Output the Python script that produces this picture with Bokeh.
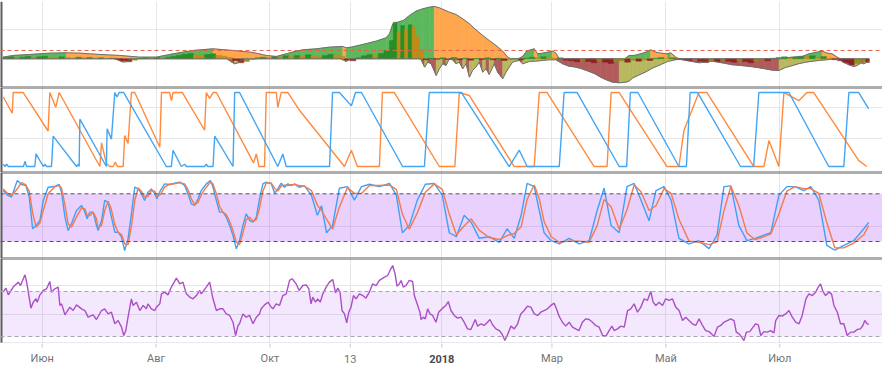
import datetime as dt
from bokeh.plotting import figure
from bokeh.layouts import column
from bokeh.models import Range1d, Span, FixedTicker, BoxAnnotation
from bokeh.core.properties import value
from bokeh.embed import file_html
from bokeh.resources import INLINE

# ---------------- x axis (days since START) ----------------
START = dt.date(2017, 5, 11)
TICK_DATES = [dt.date(2017, 6, 1), dt.date(2017, 8, 1), dt.date(2017, 10, 1), dt.date(2017, 11, 13),
              dt.date(2018, 1, 1), dt.date(2018, 3, 1), dt.date(2018, 5, 1), dt.date(2018, 7, 1)]
TICK_LABELS = ["Июн", "Авг", "Окт", "13", "2018", "Мар", "Май", "Июл"]
TICK_BOLD = [False, False, False, False, True, False, False, False]
X_START, X_END = -1.3, 471.0

# ---------------- panel 1: momentum / trend strength ----------------
TREND_LEVEL = 25
S1 = [(0, 5), (5.5, 10), (14.4, 13), (25.1, 17), (34.1, 18), (41.2, 17), (51.9, 13), (62.6, 10), (73.3, 5),
      (82.2, 5), (91.1, 15), (101.8, 25), (112.5, 30), (123.2, 25), (133.9, 19), (141, 10), (146.4, 7),
      (151.7, 15), (157, 23), (160.6, 27), (167.8, 30), (174.9, 35), (182, 37), (183.8, 33), (186.5, 35),
      (192.7, 43), (199.8, 53), (205.2, 63), (207, 75), (208.8, 105), (214.4, 115), (217.7, 130), (221.2, 143),
      (224.8, 150), (228.4, 155), (231, 157), (233.7, 153), (239, 140), (242.6, 133), (246.2, 120), (249.8, 105),
      (253.3, 87), (256.9, 70), (260.4, 55), (264, 40), (267.6, 23), (270.3, 5), (272, 0), (276, 0), (278.3, 7),
      (280.4, 23), (284.5, 30), (286.3, 15), (289, 17), (291.6, 20), (294.3, 23), (296.1, 17), (297.9, 0),
      (333, 0), (335.3, 10), (338, 10), (341.6, 15), (344.3, 20), (346.9, 27), (349.6, 20), (352.3, 17),
      (355.8, 15), (357.6, 18), (360.3, 5), (362.1, 0), (416, 0), (417.3, 2), (422.7, 5), (428, 7), (431.6, 15),
      (433.4, 17), (436, 20), (438.7, 23), (441.4, 17), (444, 15), (446.7, 5), (448.5, 0), (463.7, 0)]
S2 = [(0, 0), (60, 0), (62.6, -6), (64.5, -10), (66.5, -8), (68, 0), (120, 0), (122, -8), (124, -15), (126, -12),
      (128, 0), (181, 0), (183.8, -8), (186, 0), (223, 0), (224, -3), (225.8, -25), (227.5, -10), (229.3, -15),
      (232, -50), (233.7, -30), (235.5, -15), (237.3, -20), (239, 0), (240.8, -3), (242.6, -15), (244.4, -10),
      (246.2, -30), (248, -15), (249.8, -55), (251.5, -35), (253.3, -25), (255.1, -10), (256.9, -40),
      (258.7, -30), (260.4, -47), (263.1, -15), (264.9, -40), (267.6, -60), (269.4, -40), (271.1, -25),
      (272.9, -10), (274.7, -7), (276.5, -5), (278.3, -15), (281.9, -8), (285.4, -7), (289, -5), (292.6, -3),
      (296.1, -3), (299.7, -15), (303, -22), (306.8, -25), (310, -30), (313.9, -38), (317, -45), (320, -55),
      (323, -63), (326.4, -70), (330, -72), (333.6, -70), (335.3, -67), (337.1, -58), (340, -50), (344, -40),
      (347.8, -28), (352, -18), (356, -8), (360, -3), (362.1, -1), (366, -5), (369, -8), (372.8, -12), (376, -10),
      (380, -7), (383, -10), (387, -14), (390.6, -18), (395, -20), (400, -23), (404, -26), (408, -30), (412, -34),
      (415.6, -35), (419, -26), (423, -20), (426, -15), (430, -10), (434, -7), (437, -5), (441, -3), (444, -1),
      (447.6, -2), (450, -10), (453, -18), (455.7, -23), (457.5, -20), (459.5, -12), (461, -15), (463.7, -7)]
S3 = [(0, 4), (3, 6), (6, 3), (9, 5), (12, 7), (15, 4), (18, 6), (21, 8), (24, 5), (27, 3), (30, 6), (33, 4),
      (36, 2), (39, 5), (42, 3), (45, 4), (48, 2), (51, 3), (54, 1), (57, 2),
      (60, -2), (63, -6), (66, -9), (69, -4), (72, 1), (75, 3), (78, 2), (81, 4), (84, 3), (87, 5), (90, 8),
      (93, 11), (96, 14), (99, 16), (102, 12), (105, 10), (108, 13), (111, 15), (114, 11), (117, 8),
      (120, 4), (123, -5), (126, -12), (129, -8), (132, -2), (135, 3), (138, 5), (141, 4), (144, 7), (147, 6),
      (150, 9), (153, 7), (156, 10), (159, 8), (162, 12), (165, 9), (168, 6), (171, 10), (174, 14), (177, 11),
      (180, 8), (183, -4), (186, -6), (189, 3), (192, 9), (195, 13), (198, 11), (201, 16), (204, 25), (207, 55),
      (209, 110), (211, 80), (213, 100), (215, 88), (217, 102), (219, 96), (221, 68), (223, 22), (225, -3),
      (228, 2), (231, -1), (234, 3), (237, -2),
      (240, 4), (243, -3), (246, 2), (249, -4), (252, 1), (255, -2), (258, 3), (261, -3), (264, 2), (267, -5),
      (270, -2), (273, 1), (276, -3), (279, 2), (282, 5), (285, 3), (288, 6), (291, 4), (294, 2), (297, 3),
      (300, -4), (303, -6), (306, -9), (309, -5), (312, -8), (315, -12), (318, -7), (321, -10), (324, -14),
      (327, -9), (330, -6), (333, -10), (336, -4), (339, -7), (342, -3), (345, -5), (348, 2), (351, 4), (354, 1),
      (357, 3), (360, -2), (363, -3), (366, -6), (369, -2), (372, -8), (375, -11), (378, -6), (381, -9),
      (384, -4), (387, -7), (390, -10), (393, -5), (396, -8), (399, -12), (402, -7), (405, -3), (408, -6),
      (411, 2), (414, 4), (417, 6), (420, 3), (423, 5), (426, 8), (429, 6), (432, 9), (435, 4), (438, 7),
      (441, 2), (444, -3), (447, -6), (450, -12), (453, -18), (456, -14), (459, -8), (462, -11)]

# ---------------- panel 2: Aroon ----------------
AROON_UP = [(0.2, 94), (5.0, 72), (5.5, 100), (10.9, 100), (24.2, 48), (25.1, 100), (28.3, 80), (30.1, 100),
            (51.9, 0), (52.8, 32), (55.4, 4), (57.2, 0), (59.0, 0), (60.2, 6), (61.2, 0), (64.4, 0), (65.2, 42),
            (67.0, 31), (68.8, 100), (70.6, 100), (84.0, 26), (84.9, 100), (89.3, 100), (90.2, 89), (91.1, 100),
            (96.1, 100), (108.0, 49), (108.9, 100), (110.7, 92), (112.5, 100), (114.3, 100), (134.2, 5),
            (135.7, 17), (137.1, 0), (140.1, 0), (141.0, 100), (146.4, 100), (147.2, 80), (149.0, 100),
            (152.6, 100), (158.8, 76), (182.9, 0), (186.6, 22), (189.8, 0), (201.6, 0), (203.2, 100),
            (209.6, 100), (233.7, 0), (242, 0), (244.4, 100), (249.7, 96), (273.8, 0), (284.5, 0), (287.2, 100),
            (291.4, 100), (316.6, 0), (323.5, 0), (325.7, 100), (330, 100), (355.6, 0), (362, 0), (364.7, 49),
            (372.7, 100), (377, 100), (402.1, 0), (407.5, 0), (410.2, 35), (415.5, 0), (418.2, 100), (426.2, 89),
            (430.5, 100), (434.2, 100), (458.3, 8), (462.6, 0)]
AROON_DOWN = [(0.2, 3), (1.1, 0), (2.0, 3), (2.9, 0), (11.0, 0), (11.8, 7), (12.7, 0), (17.1, 0), (17.7, 17),
              (21.6, 0), (22.5, 3), (23.4, 0), (26.0, 0), (26.9, 41), (39.4, 0), (40.3, 3), (40.8, 0), (41.2, 64),
              (55.4, 0), (55.8, 51), (58.1, 37), (59.9, 100), (61.1, 94), (62.2, 100), (64.7, 100), (87.5, 0),
              (90.2, 0), (91.1, 22), (95.5, 0), (97.3, 3), (98.2, 0), (108, 0), (108.9, 3), (109.8, 0), (112.5, 0),
              (113.4, 41), (123.2, 0), (124.1, 100), (126.7, 100), (147.2, 0), (149.9, 17), (151.7, 0),
              (174.9, 0), (176.5, 100), (180.2, 100), (186.6, 82), (188.8, 100), (192, 100), (214, 0),
              (225.7, 0), (228.3, 100), (233.7, 100), (245.5, 100), (271.1, 0), (276.5, 22), (280.7, 0),
              (297.9, 0), (300.5, 100), (307.5, 100), (330, 0), (334, 0), (336, 100), (340, 100), (362, 0),
              (366, 0), (368, 100), (372, 100), (395, 0), (402, 0), (404.8, 100), (411.2, 100), (420.9, 100),
              (442.2, 0), (450.3, 0), (453, 100), (458.3, 100), (463.6, 78)]

# ---------------- panel 3: Stochastic RSI (day, K, D) ----------------
STOCH_BANDS = (20, 80)
STOCH = [(0.2, 84.1, 86), (2.0, 79.1, 81.6), (4.6, 75.8, 77.5), (7.7, 96.7, 86.3), (10.0, 91.7, 94.2),
         (12.3, 90.4, 91.1), (14.1, 75.8, 83.1), (15.9, 35.9, 55.9), (17.7, 40.1, 38), (19.8, 46.4, 43.3),
         (21.6, 71.6, 59), (24.2, 88.3, 80), (27.8, 89.2, 88.8), (30.1, 91.7, 90.5), (31.4, 82.0, 86.9),
         (33.2, 50.6, 66.3), (34.9, 33.8, 42.2), (36.7, 42.2, 38), (39.4, 59.0, 50.6), (42.1, 65.3, 62.2),
         (43.9, 56.9, 61.1), (45.1, 48.5, 52.7), (46.5, 56.9, 52.7), (48.3, 56.9, 56.9), (50.1, 40.1, 48.5),
         (51.0, 33.8, 37), (52.8, 46.4, 40.1), (54.5, 71.6, 59), (56.3, 69.5, 70.6), (58.1, 50.6, 60.1),
         (59.9, 31.7, 41.2), (61.7, 31.7, 31.7), (63.5, 25.4, 28.6), (65.2, 8.7, 17.1), (67.0, 23.3, 16),
         (68.8, 54.8, 39.1), (70.6, 88.3, 71.6), (72.4, 86.2, 87.3), (74.2, 79.9, 83.1), (75.9, 71.6, 75.8),
         (77.7, 82.0, 76.8), (79.5, 86.2, 84.1), (81.3, 79.9, 83.1), (82.5, 73.7, 76.8), (84.3, 84.1, 78.9),
         (86.6, 92.5, 88.3), (89.3, 91.7, 92.1), (92.0, 93.4, 92.6), (94.7, 94.6, 94), (97.3, 90.4, 92.5),
         (99.1, 79.9, 85.2), (100.9, 67.4, 73.7), (102.7, 65.3, 66.4), (104.5, 73.7, 69.5), (106.2, 84.1, 78.9),
         (108.9, 92.5, 88.3), (111.1, 96.7, 94.6), (112.5, 88.3, 92.5), (114.3, 71.6, 80), (116.0, 56.9, 64.3),
         (117.8, 56.9, 56.9), (119.6, 50.6, 53.8), (121.4, 40.1, 45.4), (123.2, 27.5, 33.8), (125.0, 10.8, 19.2),
         (126.7, 21.2, 16), (128.5, 40.1, 30.7), (130.3, 54.8, 47.5), (132.1, 46.4, 50.6), (133.9, 44.3, 45.4),
         (135.7, 50.6, 47.5), (137.4, 73.7, 62.2), (139.2, 92.5, 83.1), (141.0, 94.6, 93.6), (143.7, 92.5, 93.6),
         (145.5, 80.8, 86.7), (147.2, 86.2, 83.5), (149.0, 93.4, 89.8), (150.8, 88.3, 90.9), (152.6, 92.5, 90.4),
         (154.4, 90.4, 91.5), (156.2, 92.5, 91.5), (158.5, 88.3, 90.4),
         (161.5, 90, 89.5), (165.2, 78, 84), (168.4, 53, 65.5), (170.6, 65, 59), (173.3, 31, 48),
         (176.5, 40, 35.5), (180.2, 87, 63.5), (184.5, 89, 88), (188.2, 72, 80.5), (192, 89, 80.5),
         (196.3, 92, 90.5), (201.6, 89, 90.5), (207, 93, 91), (210.7, 78, 85.5), (213.9, 31, 54.5),
         (217.6, 40, 35.5), (221.9, 72, 56), (226.2, 92, 82), (231, 93, 92.5), (235.3, 78, 85.5), (239, 31, 54.5),
         (242.8, 26, 28.5), (247, 53, 39.5), (250.8, 44, 48.5), (255.1, 24, 34), (260.4, 26, 25),
         (265.8, 19, 22.5), (270, 36, 27.5), (273.8, 24, 30), (277.5, 53, 38.5), (280.7, 93, 73),
         (284.5, 89, 91), (287.2, 59, 74), (289.8, 31, 45), (293.6, 21, 26), (297.9, 17, 19), (303.2, 24, 20.5),
         (308.6, 17, 20.5), (313.9, 21, 19), (318.2, 59, 40), (321.9, 87, 73), (325.7, 40, 63.5), (330, 31, 35.5),
         (334.2, 89, 60), (338, 93, 91), (341.7, 72, 82.5), (346, 46, 59), (349.7, 84, 65), (354, 89, 86.5),
         (357.8, 72, 80.5), (362, 24, 48), (367.4, 17, 20.5), (372.7, 21, 19), (378.1, 11, 16), (382.4, 28, 19.5),
         (386.1, 89, 58.5), (389.8, 90, 89.5), (394.1, 40, 65), (398.4, 21, 30.5), (402.7, 24, 22.5),
         (407.5, 28, 26), (411.2, 31, 29.5), (415.5, 78, 54.5), (419.8, 89, 83.5), (424.1, 89, 89),
         (428.9, 84, 86.5), (432.6, 89, 86.5), (436.9, 72, 80.5), (441.2, 15, 43.5), (445.5, 9, 12),
         (450.3, 15, 12), (455.6, 21, 18), (461, 36, 28.5), (463.6, 44, 40)]

# ---------------- panel 4: RSI ----------------
RSI_BANDS = (30, 70)
RSI = [(0, 69.4), (1.6, 73.0), (2.9, 67.0), (5.5, 73.9), (8.2, 78.3), (9.4, 75.3), (11.8, 84.8), (12.7, 78.3),
       (15.0, 55.2), (16.2, 60.5), (17.7, 63.5), (18.4, 60.5), (19.8, 67.0), (21.6, 70.9), (23.4, 72.4),
       (25.1, 78.9), (26.0, 69.4), (27.8, 72.4), (29.6, 73.9), (30.5, 57.6), (31.4, 59.0), (33.2, 49.3),
       (35.8, 56.1), (37.6, 53.1), (39.4, 58.1), (42.1, 54.6), (43.9, 53.1), (45.6, 47.2), (48.3, 49.3),
       (50.1, 45.1), (52.8, 53.1), (54.5, 54.6), (56.3, 50.1), (58.1, 51.6), (59.9, 41.3), (61.7, 44.2),
       (63.5, 38.3), (64.7, 30.9), (65.8, 35.3), (67.0, 47.2), (68.8, 63.5), (69.7, 57.6), (71.5, 60.5),
       (73.3, 53.1), (75.1, 57.6), (76.8, 54.6), (77.7, 59.0), (79.5, 54.6), (81.3, 53.1), (82.2, 56.1),
       (84.0, 59.0), (84.9, 67.9), (86.6, 69.4), (88.4, 67.0), (90.2, 73.9), (92.9, 81.9), (94.7, 76.8),
       (96.4, 78.3), (98.2, 67.9), (100.0, 65.0), (101.8, 63.5), (103.6, 66.4), (105.4, 70.9), (106.2, 67.9),
       (108.9, 73.9), (110.7, 78.3), (112.5, 63.5), (114.3, 53.1), (116.0, 54.6), (117.8, 54.6), (119.6, 50.1),
       (121.4, 48.7), (123.2, 42.7), (124.6, 30.9), (125.9, 39.8), (126.7, 41.3), (128.5, 50.1), (130.3, 47.2),
       (132.1, 48.7), (133.9, 41.3), (135.7, 47.2), (137.4, 50.1), (138.3, 54.6), (140.1, 58.1), (141.9, 60.5),
       (143.7, 56.1), (144.6, 54.6), (146.3, 59.0), (148.1, 57.6), (149.9, 66.4), (151.7, 67.9), (153.5, 79.8),
       (154.9, 81.3), (157.0, 76.8), (158.6, 70.9), (160.6, 75.3), (162.4, 75.9), (163.8, 72.4), (165.0, 59.0),
       (165.9, 65.0), (167.4, 60.5), (168.6, 63.5), (169.9, 60.5), (171.3, 67.9), (173.1, 73.9), (174.8, 78.3),
       (176.6, 80.7), (178.1, 68.8), (179.3, 73.0), (180.5, 69.4), (181.6, 53.1), (182.9, 50.1), (184.1, 42.1),
       (185.2, 51.6), (186.4, 56.1), (187.7, 66.4), (189.1, 63.5), (190.9, 67.9), (192.7, 66.4), (194.4, 64.1),
       (196.2, 69.4), (198.0, 76.8), (199.8, 75.3), (201.6, 79.8), (204.3, 82.7), (206.0, 84.2), (207.3, 88.7),
       (208.7, 93.1), (210.0, 85.7), (211.0, 74.7), (212.3, 76.8), (213.2, 79.8), (214.4, 73.9), (215.8, 75.3),
       (217.6, 79.8), (219.4, 78.9), (220.3, 66.4), (222.1, 57.6), (223.3, 51.6), (223.9, 45.1), (225.1, 47.2),
       (226.2, 45.7), (227.4, 54.6), (228.7, 50.1), (230.1, 48.7), (231.9, 42.7), (233.3, 51.6), (235.4, 55.2),
       (237.2, 57.6), (238.5, 61.1), (239.9, 53.1), (241.7, 48.7), (243.5, 46.3), (245.3, 47.2), (247.0, 42.7),
       (248.8, 36.8), (250.6, 36.2), (252.9, 45.1), (254.2, 39.2), (256.0, 41.3), (257.7, 39.8), (259.5, 42.7),
       (260.8, 45.1), (262.2, 40.4), (264.0, 36.8), (265.8, 35.3), (267.2, 32.4), (268.8, 26.4), (270.2, 31.5),
       (272.0, 39.2), (273.8, 36.8), (275.6, 41.3), (277.3, 50.1), (279.1, 53.1), (280.9, 57.0), (282.7, 56.1),
       (284.5, 50.1), (286.3, 48.7), (288.0, 51.6), (289.8, 53.1), (291.6, 54.6), (293.4, 57.6), (295.2, 59.6),
       (296.4, 54.6), (297.8, 48.1), (299.6, 42.7), (301.4, 39.2), (303.2, 42.7), (305.0, 38.3), (306.7, 36.8),
       (308.5, 35.3), (310.3, 42.7), (312.1, 45.7), (313.9, 45.1), (315.7, 42.7), (317.4, 39.8), (319.3, 38.3),
       (321.1, 30.9), (322.9, 30.3), (324.6, 35.3), (326.1, 39.2), (327.3, 35.3), (329.1, 36.8), (330.9, 39.2),
       (332.7, 38.3), (334.5, 53.1), (336.2, 54.6), (338.0, 59.0), (339.8, 51.6), (341.6, 56.1), (343.4, 63.5),
       (345.1, 62.0), (346.9, 70.0), (348.2, 60.5), (349.6, 57.6), (351.4, 60.5), (353.2, 57.6), (354.9, 63.5),
       (356.7, 62.0), (358.5, 63.5), (360.3, 56.1), (362.1, 53.1), (363.9, 44.2), (365.6, 47.2), (367.4, 44.2),
       (369.2, 41.3), (371.0, 39.8), (372.8, 45.7), (374.6, 39.8), (376.3, 35.3), (378.1, 34.4), (380.8, 30.0),
       (382.6, 38.3), (384.4, 39.8), (386.1, 42.7), (387.9, 44.2), (389.7, 45.7), (391.5, 44.2), (392.7, 33.9),
       (394.2, 32.4), (395.6, 29.4), (396.8, 26.4), (398.1, 33.9), (399.9, 34.4), (401.7, 38.3), (403.1, 41.3),
       (404.5, 40.4), (405.8, 30.9), (407.5, 34.4), (409.3, 33.9), (411.1, 35.3), (412.9, 33.3), (413.8, 44.2),
       (415.6, 48.7), (417.3, 48.1), (419.1, 50.1), (420.9, 53.1), (422.7, 47.2), (424.5, 42.7), (426.3, 41.3),
       (428.0, 48.7), (430.0, 63.5), (431.6, 67.9), (433.4, 66.4), (435.2, 69.4), (436.6, 73.9), (437.8, 76.8),
       (439.1, 70.0), (440.5, 66.4), (442.3, 69.4), (443.7, 67.9), (445.0, 57.6), (446.8, 51.6), (448.5, 41.3),
       (450.3, 41.3), (452.1, 30.9), (453.9, 33.9), (455.7, 33.9), (457.5, 36.2), (459.2, 36.8), (460.5, 39.8),
       (461.5, 44.2), (462.8, 41.3), (463.7, 40.7)]

# ---------------- styling ----------------
W = 882
BORDER = "#5f5f5f"
GRID = "#e6e6e6"
XR = Range1d(X_START, X_END)
tick_days = [(d - START).days for d in TICK_DATES]


def col(pairs, i):
    return [p[i] for p in pairs]


def panel(h, y0, y1, ygrid, top_border=True, bottom_border=True):
    p = figure(width=W, height=h, x_range=XR, y_range=Range1d(y0, y1), output_backend="svg",
               toolbar_location=None, x_axis_location=None, y_axis_location=None, min_border=0,
               outline_line_color=None, background_fill_color="white", border_fill_color="white")
    p.xgrid.ticker = FixedTicker(ticks=tick_days)
    p.ygrid.ticker = FixedTicker(ticks=ygrid)
    for g in (p.xgrid, p.ygrid):
        g.grid_line_color = GRID
        g.grid_line_width = 1
    p.add_layout(Span(location=X_START, dimension="height", line_color=BORDER, line_width=4))
    if top_border:
        p.add_layout(Span(location=y1, dimension="width", line_color=BORDER, line_width=2))
    if bottom_border:
        p.add_layout(Span(location=y0, dimension="width", line_color=BORDER, line_width=2))
    return p


# top strip (bottom edge of the price pane above)
strip = figure(width=W, height=1, x_range=XR, y_range=Range1d(0, 1), output_backend="svg",
               toolbar_location=None, x_axis_location=None, y_axis_location=None, min_border=0,
               outline_line_color=None, background_fill_color="#e3a2a8", border_fill_color="#e3a2a8")
strip.xgrid.visible = False
strip.ygrid.visible = False

# ---- panel 1
p1 = panel(86, -86.1, 171.9, [87], top_border=False)


def area_patches(pairs, up_color, down_color):
    d, v = col(pairs, 0), col(pairs, 1)
    xs, ys, cs = [], [], []
    for i in range(len(d) - 1):
        if v[i] == 0 and v[i + 1] == 0:
            continue
        xs.append([d[i], d[i], d[i + 1], d[i + 1]])
        ys.append([0, v[i], v[i + 1], 0])
        cs.append(up_color if v[i + 1] >= v[i] else down_color)
    return xs, ys, cs


xs, ys, cs = area_patches(S1, "#5cb85c", "#ffa74f")
p1.patches(xs, ys, fill_color=cs, line_color=cs, line_width=0.6)
xs, ys, cs = area_patches(S2, "#b8b860", "#b15b5b")
p1.patches(xs, ys, fill_color=cs, line_color=cs, line_width=0.6)

d3, v3 = col(S3, 0), col(S3, 1)
left, right, bot, top, bc = [], [], [], [], []
for i in range(len(d3)):
    left.append(d3[i])
    right.append(d3[i + 1] if i + 1 < len(d3) else d3[i] + 2)
    bot.append(min(0, v3[i]))
    top.append(max(0, v3[i]))
    rising = i == 0 or v3[i] >= v3[i - 1]
    if v3[i] >= 0:
        bc.append("#1f8c1f" if rising else "#c48a12")
    else:
        bc.append("#8c8c18" if rising else "#8b1c1c")
p1.quad(left=left, right=right, bottom=bot, top=top, fill_color=bc, line_color=bc, line_width=0.4, fill_alpha=0.9)
p1.line(col(S1, 0), col(S1, 1), line_color="#6e6e6e", line_width=1)
p1.line(col(S2, 0), col(S2, 1), line_color="#6e6e6e", line_width=1)
p1.add_layout(Span(location=TREND_LEVEL, dimension="width", line_color="#e8604c", line_dash="4 3", line_width=1))

# ---- panel 2 (Aroon)
p2 = panel(85, -8.1, 106.8, [38, 80])
p2.line(col(AROON_UP, 0), col(AROON_UP, 1), line_color="#ff8a3d", line_width=1.4)
p2.line(col(AROON_DOWN, 0), col(AROON_DOWN, 1), line_color="#42a5f5", line_width=1.4)

# ---- panel 3 (Stoch RSI)
p3 = panel(86, -1.4, 106.8, [39])
p3.add_layout(BoxAnnotation(bottom=STOCH_BANDS[0], top=STOCH_BANDS[1], fill_color="#a743f7", fill_alpha=0.25,
                            line_color=None, level="underlay"))
for lv in STOCH_BANDS:
    p3.add_layout(Span(location=lv, dimension="width", line_color="#555555", line_dash="4 3", line_width=1))
p3.line(col(STOCH, 0), col(STOCH, 1), line_color="#41a0f5", line_width=1.4)
p3.line(col(STOCH, 0), col(STOCH, 2), line_color="#f47a4c", line_width=1.4)

# ---- panel 4 (RSI)
p4 = panel(85, 23.8, 99.3, [50, 75], bottom_border=False)
p4.add_layout(BoxAnnotation(bottom=RSI_BANDS[0], top=RSI_BANDS[1], fill_color="#a540f5", fill_alpha=0.12,
                            line_color=None, level="underlay"))
for lv in RSI_BANDS:
    p4.add_layout(Span(location=lv, dimension="width", line_color="#aaa2b0", line_dash="4 3", line_width=1))
p4.add_layout(Span(location=23.8, dimension="width", line_color="#d6d6d6", line_width=2))
p4.line(col(RSI, 0), col(RSI, 1), line_color="#ab4fc6", line_width=1.4)

# ---- time axis
pa = figure(width=W, height=22, x_range=XR, y_range=Range1d(0, 22), output_backend="svg",
            toolbar_location=None, x_axis_location=None, y_axis_location=None, min_border=0,
            outline_line_color=None, background_fill_color="white", border_fill_color="white")
pa.xgrid.visible = False
pa.ygrid.visible = False
pa.segment(x0=tick_days, y0=[22] * len(tick_days), x1=tick_days, y1=[18] * len(tick_days),
           line_color="#c8c8c8", line_width=1)
norm = [i for i, b in enumerate(TICK_BOLD) if not b]
bold = [i for i, b in enumerate(TICK_BOLD) if b]
pa.text(x=[tick_days[i] for i in norm], y=[7] * len(norm), text=[TICK_LABELS[i] for i in norm],
        text_align="center", text_baseline="middle", text_font=value("Roboto"), text_font_size="11px",
        text_color="#737373")
pa.text(x=[tick_days[i] for i in bold], y=[7] * len(bold), text=[TICK_LABELS[i] for i in bold],
        text_align="center", text_baseline="middle", text_font=value("Roboto"), text_font_size="11px",
        text_font_style="bold", text_color="#4a4a4a")

layout = column(strip, p1, p2, p3, p4, pa, spacing=0)
open("out.html", "w").write(file_html(layout, INLINE))
